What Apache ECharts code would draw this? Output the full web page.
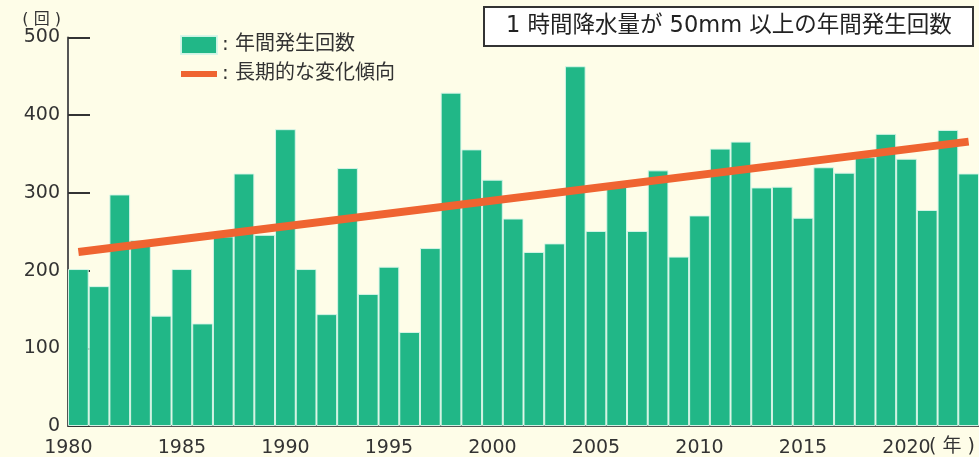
<!DOCTYPE html>
<html><head><meta charset="utf-8">
<script src="https://cdn.jsdelivr.net/npm/echarts@6/dist/echarts.min.js"></script>
<style>html,body{margin:0;padding:0;background:#FEFDE8;}#c{width:979px;height:457px;}</style>
</head><body><div id="c"></div>
<script>
const years = ['1980','1981','1982','1983','1984','1985','1986','1987','1988','1989',
  '1990','1991','1992','1993','1994','1995','1996','1997','1998','1999',
  '2000','2001','2002','2003','2004','2005','2006','2007','2008','2009',
  '2010','2011','2012','2013','2014','2015','2016','2017','2018','2019',
  '2020','2021','2022','2023'];
const counts = [202,180,298,239,142,202,132,244,325,246,
  382,202,144,332,170,205,121,229,429,356,
  317,267,224,235,463,251,308,251,329,218,
  271,357,366,307,308,268,333,326,346,376,
  344,278,381,325];
const trendYears = ['1980','2023'];
const trendValues = [224, 366];
const barName = '年間発生回数';
const trendName = '長期的な変化傾向';
const titleText = '1 時間降水量が 50mm 以上の年間発生回数';
const yUnit = '( 回 )';
const xUnit = '( 年 )';

const FONT = "'DejaVu Sans', 'Noto Sans CJK JP', sans-serif";
const chart = echarts.init(document.getElementById('c'), null, {renderer: 'canvas'});
chart.setOption({
  backgroundColor: '#FEFDE8',
  animation: false,
  textStyle: {fontFamily: FONT},
  title: {
    text: titleText,
    left: 484, top: 7,
    padding: [8, 22, 9, 22],
    borderWidth: 2, borderColor: '#333',
    backgroundColor: '#ffffff',
    textStyle: {fontSize: 22.5, fontWeight: 'normal', color: '#222', fontFamily: FONT}
  },
  legend: {
    orient: 'vertical', left: 173, top: 30,
    itemWidth: 36, itemHeight: 18, itemGap: 9,
    textStyle: {fontSize: 20, color: '#333', fontFamily: FONT},
    formatter: function (n) { return ': ' + n; },
    data: [
      {name: barName, icon: 'rect'},
      {name: trendName, lineStyle: {width: 6}, itemStyle: {opacity: 0}}
    ]
  },
  graphic: [{
    type: 'text', left: 929, top: 438,
    style: {text: xUnit, fontSize: 19, fill: '#333', fontFamily: FONT}
  }],
  grid: {left: 68, right: 0, top: 37.5, bottom: 31, containLabel: false, outerBoundsMode: 'none'},
  xAxis: {
    type: 'category', data: years, boundaryGap: true,
    axisLine: {lineStyle: {color: '#555', width: 2}},
    axisTick: {alignWithLabel: true, length: 7, lineStyle: {color: '#555', width: 1.5},
      interval: function (i) { return i % 5 === 0 && i > 0; }},
    axisLabel: {
      interval: function (i) { return i % 5 === 0; },
      fontSize: 19, color: '#333', margin: 13, fontFamily: FONT,
      formatter: function (v, i) { return i === 0 ? '{s|' + v + '}' : v; },
      rich: {s: {fontSize: 19, color: '#333', fontFamily: FONT, padding: [0, 20, 0, 0]}}
    }
  },
  yAxis: {
    type: 'value', min: 0, max: 500, interval: 100,
    name: yUnit, nameLocation: 'end', nameGap: 10,
    nameTextStyle: {fontSize: 16, color: '#333', align: 'right', padding: [0, 7, 0, 0], fontFamily: FONT},
    axisLine: {show: true, lineStyle: {color: '#555', width: 2}},
    axisTick: {show: true, inside: true, length: 22, lineStyle: {color: '#333', width: 2}},
    axisLabel: {fontSize: 19, color: '#333', margin: 8, fontFamily: FONT},
    splitLine: {show: false}
  },
  series: [
    {
      name: barName, type: 'bar', data: counts,
      barCategoryGap: '0%',
      itemStyle: {color: '#21B787', borderColor: 'rgba(215,245,232,0.95)', borderWidth: 1},
      z: 2
    },
    {
      name: trendName, type: 'line',
      data: trendYears.map(function (y, i) { return [y, trendValues[i]]; }),
      symbol: 'none',
      lineStyle: {color: '#EF6431', width: 8, cap: 'butt'},
      itemStyle: {color: '#EF6431'},
      z: 5
    }
  ]
});
</script>
</body></html>
